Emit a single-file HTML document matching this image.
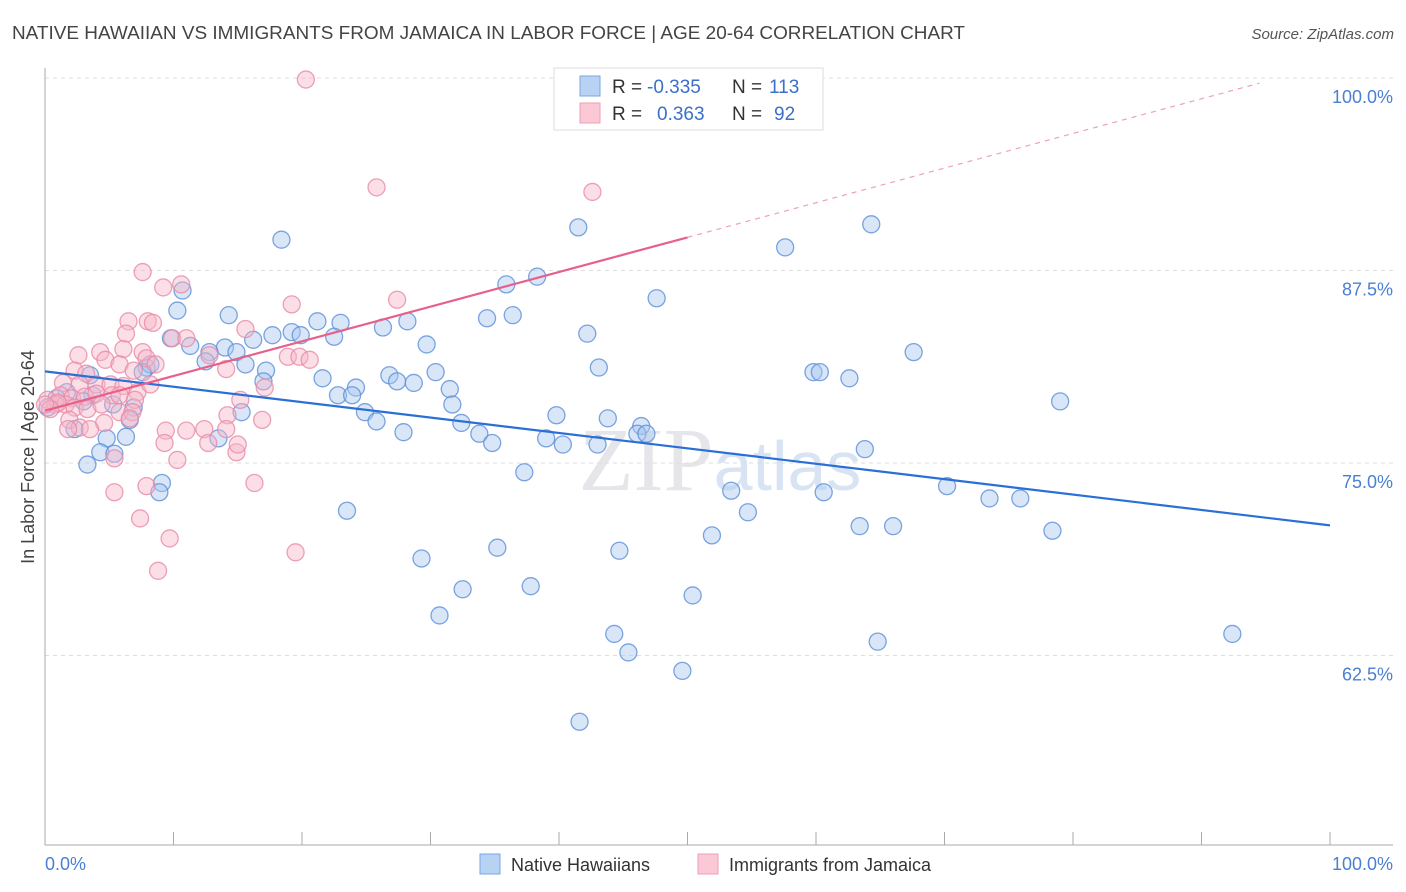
<!DOCTYPE html>
<html><head><meta charset="utf-8"><style>
body{margin:0;background:#fff;font-family:"Liberation Sans",sans-serif;}
svg{display:block}
</style></head><body>
<svg width="1406" height="892" xmlns="http://www.w3.org/2000/svg">
<text x="12" y="39" font-size="18" fill="#444" textLength="953" lengthAdjust="spacingAndGlyphs">NATIVE HAWAIIAN VS IMMIGRANTS FROM JAMAICA IN LABOR FORCE | AGE 20-64 CORRELATION CHART</text>
<text x="1394" y="39" font-size="15" fill="#555" font-style="italic" text-anchor="end">Source: ZipAtlas.com</text>
<text x="720" y="490" font-size="90" fill="#e6e6ea" text-anchor="middle" font-family="Liberation Serif,serif">ZIP<tspan fill="#d8e4f4" font-family="Liberation Sans,sans-serif" font-size="70">atlas</tspan></text>
<g id="grid"></g>
<g id="axes"></g>
<g id="pts"></g>
<g id="trends"></g>
<text x="34" y="457" font-size="18" fill="#444" text-anchor="middle" transform="rotate(-90 34 457)">In Labor Force | Age 20-64</text>
<g>
<rect x="554" y="68" width="269" height="62" fill="#fff" stroke="#ddd"/>
<rect x="580" y="76" width="20" height="20" fill="#b8d2f3" stroke="#7aa6e0"/>
<rect x="580" y="103" width="20" height="20" fill="#fbc8d6" stroke="#ee9fb8"/>
<text x="612" y="93" font-size="19" fill="#333">R =</text>
<text x="647" y="93" font-size="19" fill="#3b6fc9">-0.335</text>
<text x="732" y="93" font-size="19" fill="#333">N =</text>
<text x="769" y="93" font-size="19" fill="#3b6fc9">113</text>
<text x="612" y="120" font-size="19" fill="#333">R =</text>
<text x="657" y="120" font-size="19" fill="#3b6fc9">0.363</text>
<text x="732" y="120" font-size="19" fill="#333">N =</text>
<text x="774" y="120" font-size="19" fill="#3b6fc9">92</text>
</g>
<g>
<rect x="480" y="854" width="20" height="20" fill="#b8d2f3" stroke="#7aa6e0"/>
<text x="511" y="871" font-size="18" fill="#333">Native Hawaiians</text>
<rect x="698" y="854" width="20" height="20" fill="#fbc8d6" stroke="#ee9fb8"/>
<text x="729" y="871" font-size="18" fill="#333">Immigrants from Jamaica</text>
</g>
<text x="45" y="870" font-size="18" fill="#4a7fd4">0.0%</text>
<text x="1393" y="870" font-size="18" fill="#4a7fd4" text-anchor="end">100.0%</text>
</svg>
<script>
const blueX=[18.4,41.5,38.3,35.9,64.3,57.6,47.6,10.7,10.3,14.3,21.2,28.2,23.0,26.3,34.4,36.4,42.2,17.7,19.2,19.9,22.5,9.8,11.3,14.0,16.2,12.8,14.9,29.7,67.6,43.1,17.2,15.6,12.5,7.9,8.2,3.5,7.6,21.6,24.2,26.8,27.4,28.7,30.4,59.8,60.3,62.6,79.0,22.8,23.9,31.5,31.7,17.0,3.7,5.3,6.9,15.3,24.9,25.8,39.8,43.8,46.4,46.1,46.8,27.9,32.4,33.8,34.8,39.0,40.3,43.0,63.8,4.8,6.3,2.3,9.1,8.9,3.3,4.3,5.4,13.5,37.3,53.4,60.6,54.7,70.2,73.5,75.9,23.5,63.4,66.0,51.9,78.4,35.2,44.7,29.3,37.8,32.5,50.4,30.7,44.3,45.4,64.8,92.4,49.6,41.6,1.7,0.9,3.0,0.2,6.6];
const blueY=[89.5,90.3,87.1,86.6,90.5,89.0,85.7,86.2,84.9,84.6,84.2,84.2,84.1,83.8,84.4,84.6,83.4,83.3,83.5,83.3,83.2,83.1,82.6,82.5,83.0,82.2,82.2,82.7,82.2,81.2,81.0,81.4,81.6,81.2,81.4,80.7,80.9,80.5,79.9,80.7,80.3,80.2,80.9,80.9,80.9,80.5,79.0,79.4,79.4,79.8,78.8,80.3,79.4,78.8,78.6,78.3,78.3,77.7,78.1,77.9,77.4,76.9,76.9,77.0,77.6,76.9,76.3,76.6,76.2,76.2,75.9,76.6,76.7,77.2,73.7,73.1,74.9,75.7,75.6,76.6,74.4,73.2,73.1,71.8,73.5,72.7,72.7,71.9,70.9,70.9,70.3,70.6,69.5,69.3,68.8,67.0,66.8,66.4,65.1,63.9,62.7,63.4,63.9,61.5,58.2,79.6,79.2,79.0,78.6,77.8];
const pinkX=[20.3,25.8,42.6,7.6,10.6,9.2,19.2,27.4,8.0,8.4,6.5,6.3,9.9,11.0,15.6,2.6,4.3,6.1,7.6,7.9,8.6,4.7,5.8,6.9,2.3,3.2,18.9,19.8,20.6,14.1,12.8,1.4,2.7,4.0,5.1,6.1,7.2,8.2,17.1,15.2,1.2,2.1,3.1,4.0,5.2,5.8,7.0,0.2,0.8,1.6,2.3,3.3,4.4,5.8,6.8,14.2,16.9,1.9,2.7,4.6,6.6,1.8,3.5,9.4,11.0,12.4,14.1,9.3,12.7,14.9,15.0,10.3,5.4,5.4,7.9,16.3,7.4,9.7,19.5,8.8,1.0,0.4,0.0];
const pinkY=[99.9,92.9,92.6,87.4,86.6,86.4,85.3,85.6,84.2,84.1,84.2,83.4,83.1,83.1,83.7,82.0,82.2,82.4,82.2,81.8,81.4,81.7,81.4,81.0,81.0,80.8,81.9,81.9,81.7,81.1,82.0,80.2,80.1,80.1,80.1,80.0,79.6,80.1,79.9,79.1,79.4,79.2,79.3,79.5,79.4,79.4,79.1,79.1,78.8,78.8,78.6,78.5,78.8,78.3,78.3,78.1,77.8,77.8,77.3,77.6,77.9,77.2,77.2,77.1,77.1,77.2,77.2,76.3,76.3,75.7,76.2,75.2,75.3,73.1,73.5,73.7,71.4,70.1,69.2,68.0,78.9,78.5,78.8];
const blueTrend=[80.95,-0.1];   // intercept, slope
const pinkTrend=[78.4,0.225];
const pinkSolidEnd=50;
const pinkDashEnd=94.5;
const yTicks=[100,87.5,75,62.5];
const yTickLabels=["100.0%","87.5%","75.0%","62.5%"];
const xTicks=[0,10,20,30,40,50,60,70,80,90,100];

const NS="http://www.w3.org/2000/svg";
const X=v=>45+v*12.85, Y=v=>78+(100-v)*15.4;
function mk(tag,attrs,parent){const e=document.createElementNS(NS,tag);for(const k in attrs)e.setAttribute(k,attrs[k]);document.getElementById(parent).appendChild(e);return e;}
yTicks.forEach((t,i)=>{
  const g=mk('line',{x1:45,x2:1393,y1:Y(t),y2:Y(t),stroke:'#ddd','stroke-dasharray':'4 4'},'grid');
  
  
  const l=mk('text',{x:1393,y:Y(t)+25,'font-size':18,fill:'#4a7fd4','text-anchor':'end'},'grid');
  l.textContent=yTickLabels[i];
  
  
});
const ya=mk('line',{x1:45,x2:45,y1:68,y2:845,stroke:'#aaa'},'axes');


const xa=mk('line',{x1:45,x2:1393,y1:845,y2:845,stroke:'#aaa'},'axes');


xTicks.forEach(t=>{
  const tk=mk('line',{x1:X(t),x2:X(t),y1:832,y2:845,stroke:'#aaa'},'axes');
  
  
});
function pts(xs,ys,fill,stroke,name){
  xs.forEach((x,i)=>{
    const c=mk('circle',{cx:X(x),cy:Y(ys[i]),r:8.5,fill:fill,'fill-opacity':0.45,stroke:stroke,'stroke-width':1.3,'stroke-opacity':0.8},'pts');
    
    
  });
}
pts(blueX,blueY,'#a9c8f0','#5b8fd8','native-hawaiian-point');
pts(pinkX,pinkY,'#f7b6c8','#e88aa8','jamaica-point');
const bt=mk('line',{x1:X(0),y1:Y(blueTrend[0]),x2:X(100),y2:Y(blueTrend[0]+100*blueTrend[1]),stroke:'#2a6fd6','stroke-width':2.2},'trends');


const pf=v=>pinkTrend[0]+v*pinkTrend[1];
const pt=mk('line',{x1:X(0),y1:Y(pf(0)),x2:X(pinkSolidEnd),y2:Y(pf(pinkSolidEnd)),stroke:'#e8608a','stroke-width':2.2},'trends');


const pd=mk('line',{x1:X(pinkSolidEnd),y1:Y(pf(pinkSolidEnd)),x2:X(pinkDashEnd),y2:Y(pf(pinkDashEnd)),stroke:'#eea0b8','stroke-width':1.2,'stroke-dasharray':'5 5'},'trends');


</script>
</body></html>
